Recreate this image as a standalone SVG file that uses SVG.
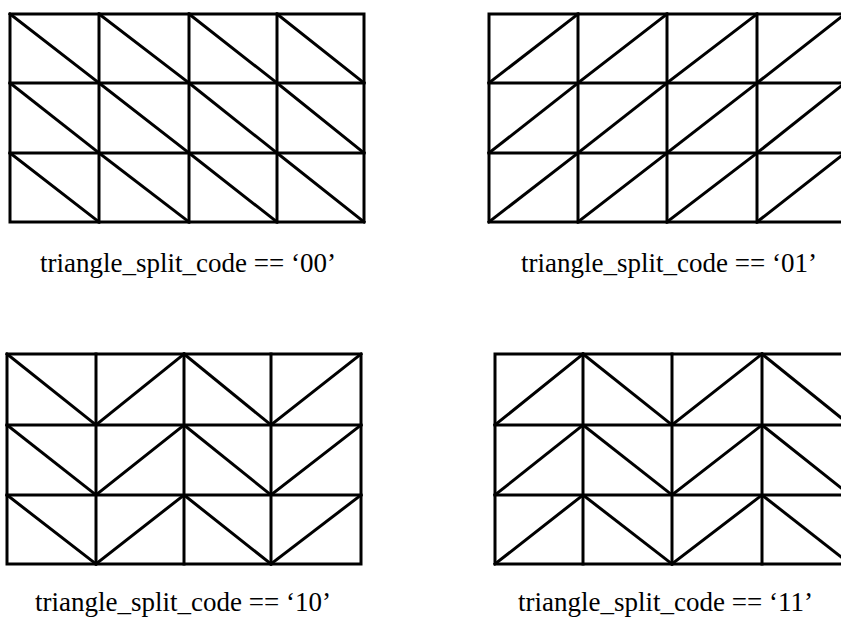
<svg xmlns="http://www.w3.org/2000/svg" width="841" height="617" viewBox="0 0 841 617">
<style>
.g line, .g rect{stroke:#000;stroke-width:3;fill:none;stroke-linecap:square}
.lbl{font-family:"Liberation Serif","Times New Roman",serif;font-size:27px;fill:#000}
</style>
<rect width="841" height="617" fill="#fff"/>
<g id="grid00" class="g">
<rect x="10" y="14" width="354" height="208"/>
<line x1="99" y1="14" x2="99" y2="222"/><line x1="189" y1="14" x2="189" y2="222"/><line x1="277" y1="14" x2="277" y2="222"/>
<line x1="10" y1="83" x2="364" y2="83"/><line x1="10" y1="153" x2="364" y2="153"/>
<line x1="10" y1="14" x2="99" y2="83"/><line x1="99" y1="14" x2="189" y2="83"/><line x1="189" y1="14" x2="277" y2="83"/><line x1="277" y1="14" x2="364" y2="83"/>
<line x1="10" y1="83" x2="99" y2="153"/><line x1="99" y1="83" x2="189" y2="153"/><line x1="189" y1="83" x2="277" y2="153"/><line x1="277" y1="83" x2="364" y2="153"/>
<line x1="10" y1="153" x2="99" y2="222"/><line x1="99" y1="153" x2="189" y2="222"/><line x1="189" y1="153" x2="277" y2="222"/><line x1="277" y1="153" x2="364" y2="222"/>
</g>
<g id="grid01" class="g">
<rect x="489" y="14" width="356" height="208"/>
<line x1="578" y1="14" x2="578" y2="222"/><line x1="667" y1="14" x2="667" y2="222"/><line x1="757" y1="14" x2="757" y2="222"/>
<line x1="489" y1="83" x2="845" y2="83"/><line x1="489" y1="153" x2="845" y2="153"/>
<line x1="489" y1="83" x2="578" y2="14"/><line x1="578" y1="83" x2="667" y2="14"/><line x1="667" y1="83" x2="757" y2="14"/><line x1="757" y1="83" x2="845" y2="14"/>
<line x1="489" y1="153" x2="578" y2="83"/><line x1="578" y1="153" x2="667" y2="83"/><line x1="667" y1="153" x2="757" y2="83"/><line x1="757" y1="153" x2="845" y2="83"/>
<line x1="489" y1="222" x2="578" y2="153"/><line x1="578" y1="222" x2="667" y2="153"/><line x1="667" y1="222" x2="757" y2="153"/><line x1="757" y1="222" x2="845" y2="153"/>
</g>
<g id="grid10" class="g">
<rect x="7" y="354" width="354" height="210"/>
<line x1="96" y1="354" x2="96" y2="564"/><line x1="184" y1="354" x2="184" y2="564"/><line x1="271" y1="354" x2="271" y2="564"/>
<line x1="7" y1="425" x2="361" y2="425"/><line x1="7" y1="495" x2="361" y2="495"/>
<line x1="7" y1="354" x2="96" y2="425"/><line x1="96" y1="425" x2="184" y2="354"/><line x1="184" y1="354" x2="271" y2="425"/><line x1="271" y1="425" x2="361" y2="354"/>
<line x1="7" y1="425" x2="96" y2="495"/><line x1="96" y1="495" x2="184" y2="425"/><line x1="184" y1="425" x2="271" y2="495"/><line x1="271" y1="495" x2="361" y2="425"/>
<line x1="7" y1="495" x2="96" y2="564"/><line x1="96" y1="564" x2="184" y2="495"/><line x1="184" y1="495" x2="271" y2="564"/><line x1="271" y1="564" x2="361" y2="495"/>
</g>
<g id="grid11" class="g">
<rect x="495" y="354" width="355" height="210"/>
<line x1="583" y1="354" x2="583" y2="564"/><line x1="672" y1="354" x2="672" y2="564"/><line x1="762" y1="354" x2="762" y2="564"/>
<line x1="495" y1="425" x2="850" y2="425"/><line x1="495" y1="495" x2="850" y2="495"/>
<line x1="495" y1="425" x2="583" y2="354"/><line x1="583" y1="354" x2="672" y2="425"/><line x1="672" y1="425" x2="762" y2="354"/><line x1="762" y1="354" x2="850" y2="425"/>
<line x1="495" y1="495" x2="583" y2="425"/><line x1="583" y1="425" x2="672" y2="495"/><line x1="672" y1="495" x2="762" y2="425"/><line x1="762" y1="425" x2="850" y2="495"/>
<line x1="495" y1="564" x2="583" y2="495"/><line x1="583" y1="495" x2="672" y2="564"/><line x1="672" y1="564" x2="762" y2="495"/><line x1="762" y1="495" x2="850" y2="564"/>
</g>
<g id="labels">
<text class="lbl" x="40" y="272">triangle_split_code == ‘00’</text>
<text class="lbl" x="521" y="272">triangle_split_code == ‘01’</text>
<text class="lbl" x="35" y="611">triangle_split_code == ‘10’</text>
<text class="lbl" x="518" y="611">triangle_split_code == ‘11’</text>
</g>
</svg>
